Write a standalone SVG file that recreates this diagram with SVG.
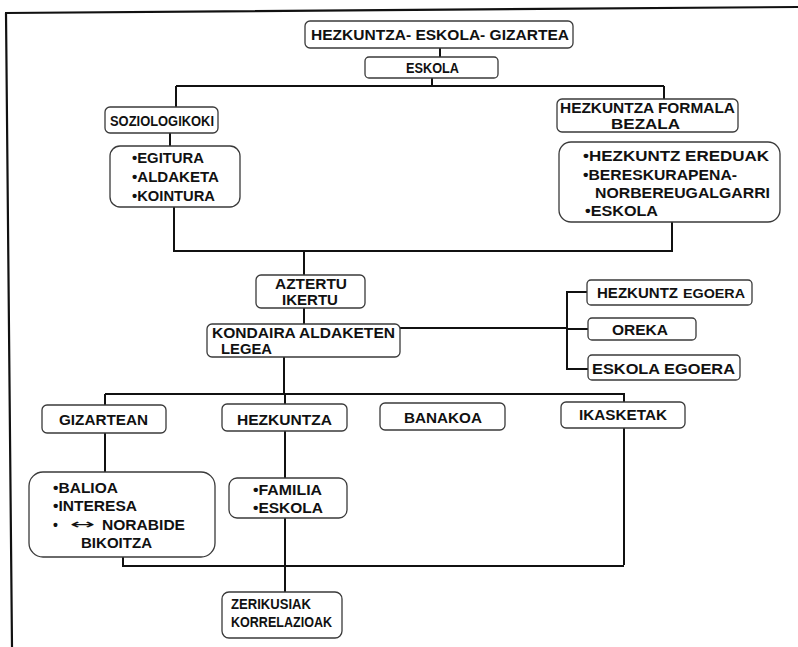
<svg xmlns="http://www.w3.org/2000/svg" width="798" height="647" viewBox="0 0 798 647">
  <style>
    .box { fill: #fff; stroke: #3a3a3a; stroke-width: 1.3; }
    .wire { fill: none; stroke: #111; stroke-width: 2; }
    .frame { fill: none; stroke: #111; stroke-width: 2.2; }
    text { font-family: "Liberation Sans", Arial, sans-serif; font-weight: bold; font-size: 14px; fill: #111; }
    .title { font-size: 15px; }
    .small { font-size: 12px; }
    .arrow { font-family: "DejaVu Sans", sans-serif; font-weight: normal; font-size: 14px; }
  </style>

  <!-- page frame -->
  <path class="frame" d="M5,13 L798,7 M6,13 L12,647"/>

  <!-- connectors -->
  <g id="connectors">
    <path class="wire" d="M440,48 V57"/>
    <path class="wire" d="M432,78 V86 M176,86 H664 M176,86 V107 M664,86 V99"/>
    <path class="wire" d="M170,133 V146"/>
    <path class="wire" d="M174,207 V251 H672 V222"/>
    <path class="wire" d="M304,251 V275 M304,308 V325"/>
    <path class="wire" d="M400,328 H567 M587,292 H567 V369 H588 M567,329 H588"/>
    <path class="wire" d="M284,357 V394 M105,394 H624 V565 M105,394 V472"/>
    <path class="wire" d="M285,394 V592 M123,557 V566 H624"/>
  </g>

  <g id="n-hezkuntza-eskola-gizartea">
    <rect class="box" x="305" y="21" width="268" height="27" rx="5"/>
    <text class="title" x="311" y="40" textLength="258" lengthAdjust="spacingAndGlyphs">HEZKUNTZA- ESKOLA- GIZARTEA</text>
  </g>

  <g id="n-eskola">
    <rect class="box" x="365" y="57" width="133" height="21" rx="4"/>
    <text x="406" y="73" textLength="53" lengthAdjust="spacingAndGlyphs">ESKOLA</text>
  </g>

  <g id="n-soziologikoki">
    <rect class="box" x="105" y="107" width="113" height="26" rx="5"/>
    <text x="110" y="126" textLength="104" lengthAdjust="spacingAndGlyphs">SOZIOLOGIKOKI</text>
  </g>

  <g id="n-hezkuntza-formala">
    <rect class="box" x="557" y="99" width="181" height="33" rx="5"/>
    <text x="560" y="113" textLength="175" lengthAdjust="spacingAndGlyphs">HEZKUNTZA FORMALA</text>
    <text x="611" y="129" textLength="69" lengthAdjust="spacingAndGlyphs">BEZALA</text>
  </g>

  <g id="n-egitura">
    <rect class="box" x="110" y="146" width="130" height="61" rx="10"/>
    <text x="132" y="163" textLength="72" lengthAdjust="spacingAndGlyphs">•EGITURA</text>
    <text x="132" y="182" textLength="87" lengthAdjust="spacingAndGlyphs">•ALDAKETA</text>
    <text x="132" y="201" textLength="83" lengthAdjust="spacingAndGlyphs">•KOINTURA</text>
  </g>

  <g id="n-hezkuntz-ereduak">
    <rect class="box" x="559" y="142" width="221" height="80" rx="12"/>
    <text x="583" y="161" textLength="186" lengthAdjust="spacingAndGlyphs">•HEZKUNTZ EREDUAK</text>
    <text x="583" y="180" textLength="154" lengthAdjust="spacingAndGlyphs">•BERESKURAPENA-</text>
    <text x="595" y="198" textLength="175" lengthAdjust="spacingAndGlyphs">NORBEREUGALGARRI</text>
    <text x="585" y="216" textLength="73" lengthAdjust="spacingAndGlyphs">•ESKOLA</text>
  </g>

  <g id="n-aztertu">
    <rect class="box" x="256" y="275" width="109" height="33" rx="5"/>
    <text x="275" y="289" textLength="72" lengthAdjust="spacingAndGlyphs">AZTERTU</text>
    <text x="282" y="305" textLength="56" lengthAdjust="spacingAndGlyphs">IKERTU</text>
  </g>

  <g id="n-kondaira">
    <rect class="box" x="207" y="324" width="193" height="33" rx="5"/>
    <text x="212" y="338" textLength="183" lengthAdjust="spacingAndGlyphs">KONDAIRA ALDAKETEN</text>
    <text x="221" y="354" textLength="51" lengthAdjust="spacingAndGlyphs">LEGEA</text>
  </g>

  <g id="n-hezkuntz-egoera">
    <rect class="box" x="587" y="280" width="165" height="25" rx="4"/>
    <text x="597" y="298" textLength="81" lengthAdjust="spacingAndGlyphs">HEZKUNTZ</text>
    <text class="small" x="683" y="298" textLength="62" lengthAdjust="spacingAndGlyphs">EGOERA</text>
  </g>

  <g id="n-oreka">
    <rect class="box" x="588" y="318" width="108" height="22" rx="4"/>
    <text x="612" y="335" textLength="56" lengthAdjust="spacingAndGlyphs">OREKA</text>
  </g>

  <g id="n-eskola-egoera">
    <rect class="box" x="588" y="355" width="152" height="25" rx="4"/>
    <text x="592" y="374" textLength="143" lengthAdjust="spacingAndGlyphs">ESKOLA EGOERA</text>
  </g>

  <g id="n-gizartean">
    <rect class="box" x="42" y="405" width="124" height="28" rx="5"/>
    <text x="59" y="425" textLength="89" lengthAdjust="spacingAndGlyphs">GIZARTEAN</text>
  </g>

  <g id="n-hezkuntza">
    <rect class="box" x="222" y="404" width="125" height="27" rx="5"/>
    <text x="237" y="425" textLength="95" lengthAdjust="spacingAndGlyphs">HEZKUNTZA</text>
  </g>

  <g id="n-banakoa">
    <rect class="box" x="380" y="403" width="125" height="27" rx="5"/>
    <text x="404" y="423" textLength="78" lengthAdjust="spacingAndGlyphs">BANAKOA</text>
  </g>

  <g id="n-ikasketak">
    <rect class="box" x="561" y="402" width="124" height="26" rx="5"/>
    <text x="579" y="420" textLength="88" lengthAdjust="spacingAndGlyphs">IKASKETAK</text>
  </g>

  <g id="n-balioa">
    <rect class="box" x="29" y="472" width="186" height="85" rx="14"/>
    <text x="53" y="493" textLength="65" lengthAdjust="spacingAndGlyphs">•BALIOA</text>
    <text x="53" y="511" textLength="84" lengthAdjust="spacingAndGlyphs">•INTERESA</text>
    <text x="53" y="530">•</text>
    <text class="arrow" x="70" y="529" textLength="25" lengthAdjust="spacingAndGlyphs">↔</text>
    <text x="102" y="530" textLength="83" lengthAdjust="spacingAndGlyphs">NORABIDE</text>
    <text x="81" y="548" textLength="71" lengthAdjust="spacingAndGlyphs">BIKOITZA</text>
  </g>

  <g id="n-familia">
    <rect class="box" x="229" y="478" width="118" height="40" rx="8"/>
    <text x="253" y="495" textLength="69" lengthAdjust="spacingAndGlyphs">•FAMILIA</text>
    <text x="253" y="513" textLength="70" lengthAdjust="spacingAndGlyphs">•ESKOLA</text>
  </g>

  <g id="n-zerikusiak">
    <rect class="box" x="222" y="592" width="120" height="46" rx="7"/>
    <text x="231" y="609" textLength="80" lengthAdjust="spacingAndGlyphs">ZERIKUSIAK</text>
    <text x="231" y="627" textLength="101" lengthAdjust="spacingAndGlyphs">KORRELAZIOAK</text>
  </g>
</svg>
